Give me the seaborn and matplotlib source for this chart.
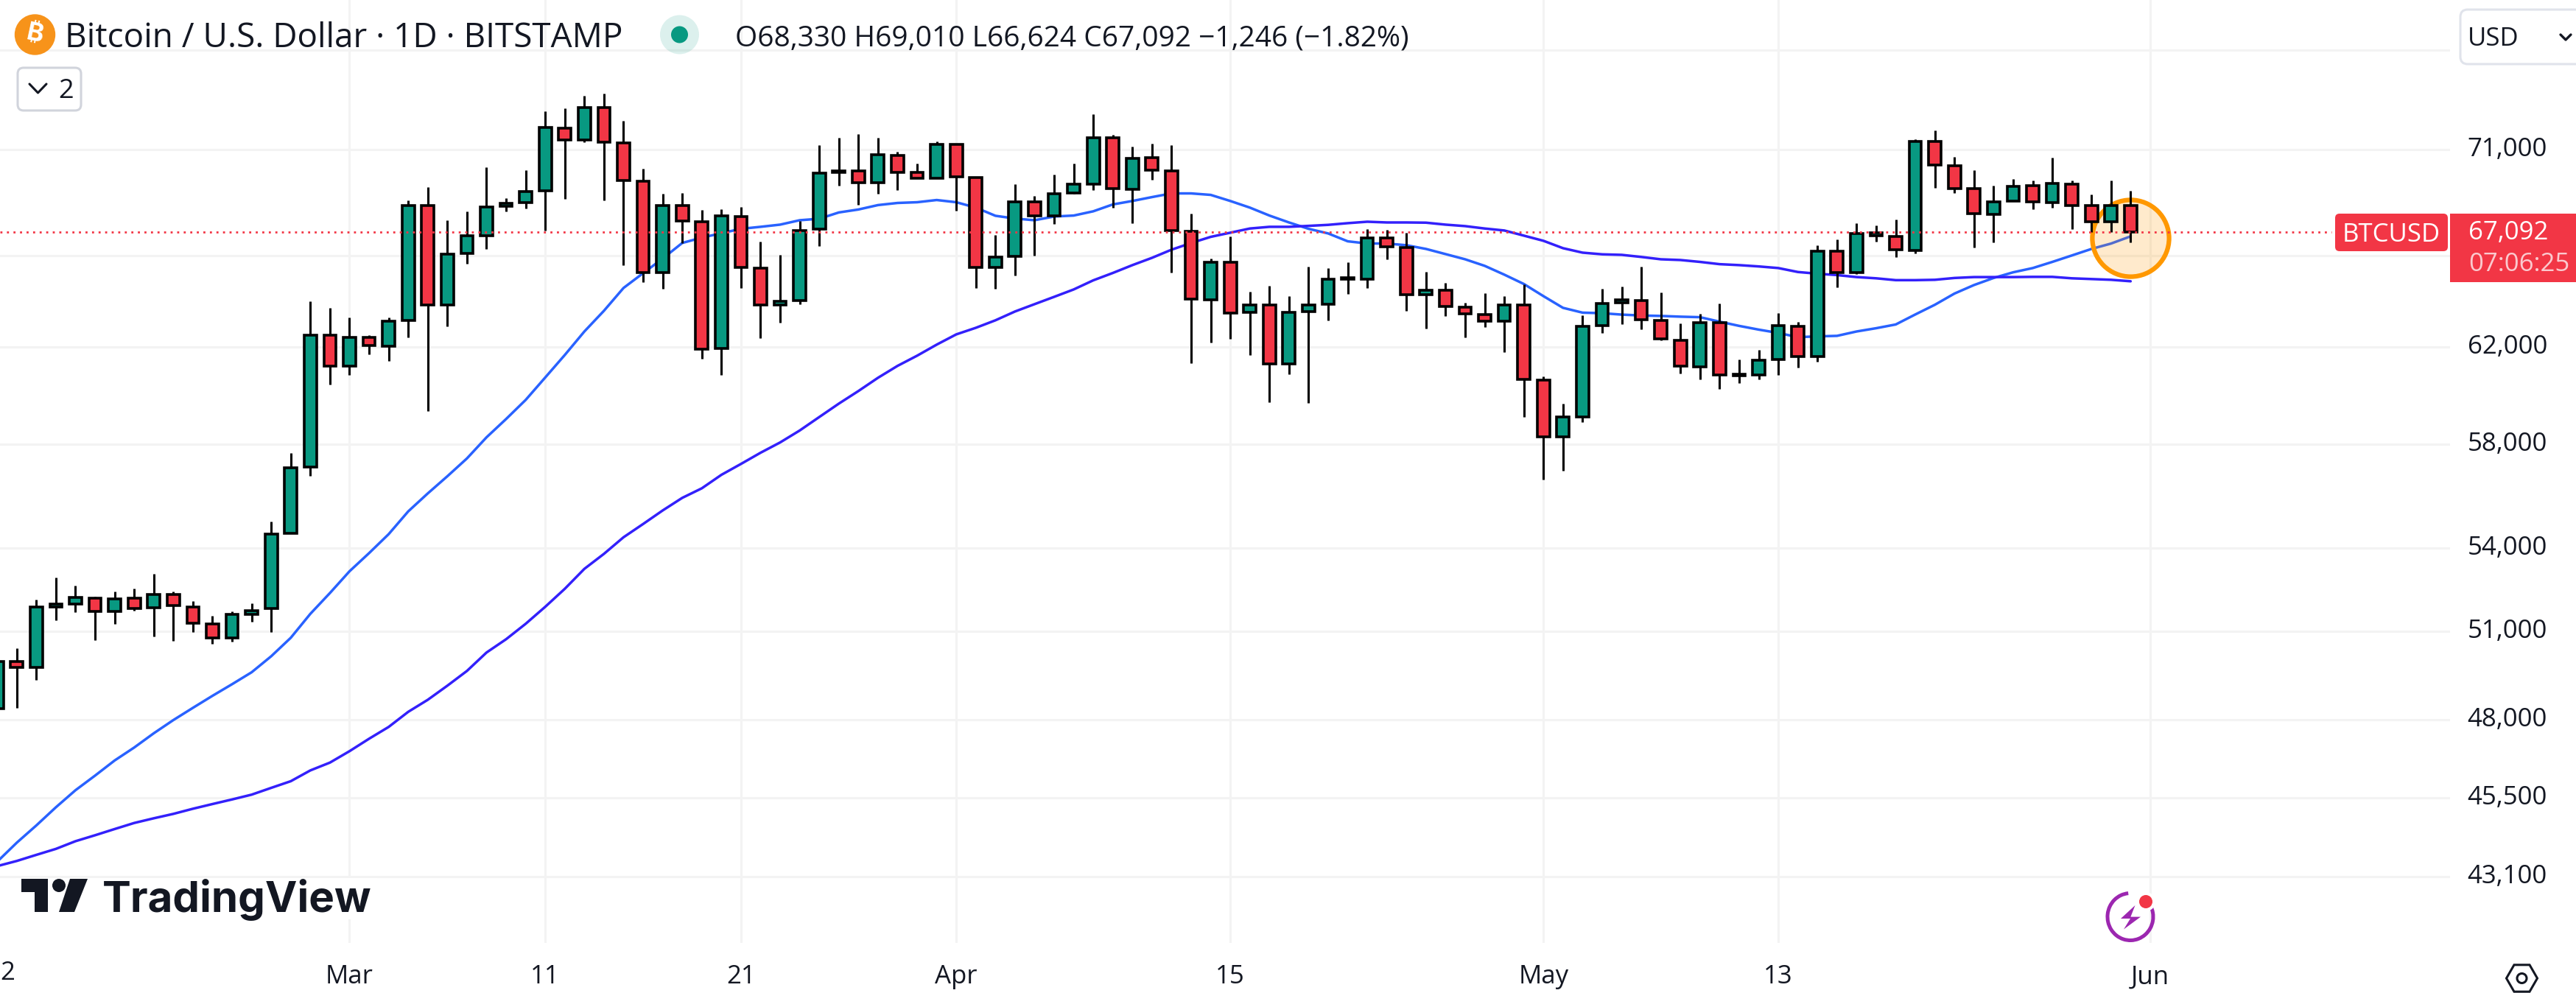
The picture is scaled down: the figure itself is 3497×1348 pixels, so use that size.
import numpy as np
import pandas as pd
import matplotlib.pyplot as plt
from matplotlib.patches import Circle, FancyBboxPatch, Polygon, Rectangle, RegularPolygon, Arc
from matplotlib.ticker import FixedLocator, FixedFormatter, NullLocator
import seaborn as sns

# daily BTCUSD candles, 12 Feb to 31 May
opens = [48375, 49967, 49766, 51875, 51980, 52190, 51718, 52180, 51834, 52310,
         51875, 51280, 50784, 51614, 51813, 54566, 57103, 62508, 61194, 62415,
         62039, 63147, 68330, 63819, 66117, 66926, 68295, 68468, 69022, 72055,
         71472, 73077, 71326, 69475, 65256, 68330, 67568, 61945, 67810, 65453,
         63819, 64011, 67230, 69890, 69983, 69404, 70728, 69912, 69617, 71265,
         69664, 65486, 65980, 68513, 67844, 68918, 69333, 71593, 69090, 70622,
         69971, 67139, 64043, 65726, 63497, 63828, 61289, 63529, 63851, 64962,
         64969, 66835, 66397, 64268, 64475, 63722, 63401, 63112, 63828, 60622,
         58306, 59109, 62922, 63915, 64021, 63149, 62299, 61164, 63040, 60848,
         60836, 61477, 62884, 61583, 66218, 65263, 66926, 66899, 66250, 71406,
         70221, 69125, 67927, 68537, 69264, 68468, 69333, 68340, 67568, 68330]
highs = [50300, 50411, 52124, 52934, 52625, 52242, 52425, 52515, 53069, 52425,
         52072, 51561, 51702, 51996, 55007, 57654, 63992, 63674, 63262, 62508,
         63262, 68572, 69195, 67637, 68053, 70160, 68676, 70007, 72892, 73051,
         73676, 73799, 72418, 70078, 68883, 68918, 68121, 68156, 68260, 66656,
         66049, 67602, 71217, 71582, 71763, 71582, 70906, 70327, 71400, 71265,
         69664, 66960, 69333, 68779, 69795, 70327, 72746, 71727, 71144, 71290,
         71217, 67948, 65881, 66893, 64400, 64663, 64204, 65519, 65453, 65717,
         67230, 67196, 67061, 65289, 64794, 63915, 64334, 64204, 64739, 60775,
         59634, 63371, 64531, 64630, 65503, 64380, 63002, 63423, 63883, 61464,
         61883, 63465, 63088, 66487, 66757, 67501, 67399, 67675, 71509, 71945,
         70650, 70007, 69264, 69575, 69506, 70611, 69506, 68848, 69506, 69010]
lows = [48060, 48400, 49326, 51404, 51692, 50708, 51260, 51745, 50823, 50664,
        50971, 50569, 50644, 51336, 50971, 54566, 56754, 60412, 60826, 61676,
        61423, 62415, 59337, 62890, 65651, 66318, 68062, 68200, 67163, 68641,
        71363, 68582, 65585, 64827, 64541, 66590, 61508, 60808, 64574, 62383,
        63040, 63851, 66453, 69274, 68375, 68883, 69067, 69617, 69617, 68097,
        64574, 64541, 65134, 66025, 67477, 68883, 69067, 68236, 67511, 69557,
        65266, 61330, 62196, 62352, 61673, 59706, 60866, 59676, 63147, 64301,
        64564, 65858, 63564, 62803, 63349, 62424, 62858, 61798, 59109, 56610,
        56957, 58892, 62602, 62967, 62745, 62299, 60894, 60643, 60228, 60497,
        60643, 60811, 61139, 61383, 64607, 65190, 66666, 65931, 66098, 69174,
        68897, 66370, 66625, 68537, 68166, 68216, 67210, 67095, 67095, 66624]
closes = [49967, 49766, 51875, 51962, 52200, 51718, 52148, 51823, 52310, 51909,
          51299, 50784, 51595, 51745, 54538, 57074, 62508, 61194, 62415, 62070,
          63112, 68330, 63819, 66083, 66926, 68260, 68444, 68987, 72091, 71472,
          73077, 71374, 69510, 65256, 68330, 67602, 61914, 67844, 65486, 63819,
          63979, 67173, 69866, 69983, 69404, 70753, 69901, 69617, 71265, 69688,
          65486, 65958, 68513, 67844, 68894, 69333, 71593, 69125, 70586, 70000,
          67163, 64075, 65726, 63465, 63828, 61289, 63509, 63828, 64969, 65026,
          66835, 66421, 64268, 64475, 63754, 63433, 63112, 63828, 60643, 58306,
          59109, 62899, 63892, 64043, 63188, 62352, 61198, 63040, 60836, 60796,
          61452, 62915, 61583, 66218, 65263, 67027, 67041, 66293, 71378, 70256,
          69132, 67955, 68513, 69229, 68503, 69371, 68330, 67568, 68313, 67092]

# the two moving averages
ma_fast = [43549, 44121, 44647, 45207, 45739, 46200, 46682, 47099, 47562, 47995,
           48400, 48801, 49191, 49596, 50144, 50784, 51626, 52368, 53155, 53822,
           54527, 55386, 56074, 56738, 57436, 58274, 59011, 59789, 60717, 61663,
           62665, 63562, 64565, 65223, 65881, 66590, 66835, 67037, 67240, 67332,
           67433, 67637, 67706, 67999, 68137, 68344, 68444, 68478, 68582, 68478,
           68226, 67844, 67716, 67637, 67810, 67855, 68053, 68375, 68537, 68720,
           68894, 68894, 68824, 68537, 68226, 67855, 67534, 67240, 67027, 66666,
           66565, 66565, 66487, 66318, 66083, 65848, 65552, 65158, 64741, 64204,
           63690, 63480, 63456, 63395, 63356, 63337, 63305, 63283, 63089, 62906,
           62745, 62602, 62421, 62455, 62477, 62665, 62806, 62967, 63401, 63825,
           64317, 64695, 65009, 65263, 65453, 65730, 66022, 66318, 66563, 66893]
ma_slow = [43417, 43571, 43754, 43934, 44166, 44347, 44536, 44722, 44866, 45002,
           45161, 45307, 45450, 45600, 45813, 46023, 46365, 46614, 46981, 47384,
           47769, 48267, 48668, 49141, 49641, 50272, 50733, 51273, 51875, 52520,
           53244, 53795, 54411, 54908, 55421, 55902, 56270, 56793, 57219, 57660,
           58069, 58547, 59091, 59637, 60155, 60704, 61203, 61632, 62102, 62540,
           62823, 63147, 63530, 63851, 64172, 64499, 64904, 65233, 65585, 65914,
           66284, 66588, 66869, 67061, 67254, 67332, 67332, 67376, 67423, 67501,
           67568, 67534, 67534, 67524, 67433, 67365, 67254, 67163, 66926, 66689,
           66352, 66149, 66073, 66049, 65954, 65848, 65815, 65730, 65628, 65585,
           65526, 65453, 65276, 65200, 65138, 65049, 64994, 64912, 64912, 64928,
           65009, 65049, 65049, 65049, 65059, 65059, 64994, 64961, 64928, 64862]

price_ticks = [76000, 71000, 66000, 62000, 58000, 54000, 51000, 48000, 45500, 43100]
price_labels = ["", "71,000", "", "62,000", "58,000", "54,000", "51,000", "48,000", "45,500", "43,100"]
date_ticks = [18, 28, 38, 49, 63, 79, 91, 110]
date_labels = ["Mar", "11", "21", "Apr", "15", "May", "13", "Jun"]
last_price = 67092

GREEN = "#089981"
RED = "#f23645"
INK = "#131722"
GRID = "#f3f3f3"

sns.set_theme(style="white")
plt.rcParams["font.family"] = ["Open Sans", "DejaVu Sans"]

W, H = 3498, 1348
fig = plt.figure(figsize=(W / 100, H / 100), dpi=100, facecolor="white")
ax = fig.add_axes([0, (H - 1280) / H, 3326 / W, 1280 / H])

df = pd.DataFrame({"day": np.arange(len(opens)), "open": opens, "high": highs, "low": lows,
                   "close": closes, "fast": ma_fast, "slow": ma_slow})

# moving averages go under the candles
sns.lineplot(data=df, x="day", y="fast", color="#2962ff", linewidth=2.5, ax=ax, zorder=2, estimator=None)
sns.lineplot(data=df, x="day", y="slow", color="#3320fb", linewidth=2.5, ax=ax, zorder=2, estimator=None)

# orange marker round the last candle
ax.plot(df["day"].iloc[-1], 66824, marker="o", ms=75, mfc=(1, 0.6, 0, 0.2), mec="#ff9800", mew=4.5, zorder=2.5)

# candles
colors = np.where(df["close"] >= df["open"], GREEN, RED)
ax.vlines(df["day"], df["low"], df["high"], color="black", linewidth=2.2, zorder=3)
ax.bar(df["day"], (df["close"] - df["open"]).abs(), bottom=df[["open", "close"]].min(axis=1), width=0.63,
       color=colors, edgecolor="black", linewidth=2.6, zorder=4)

ax.set_yscale("log")
ax.set_xlim(0.143, 125.32)
ax.set_ylim(41188, 78674)
ax.hlines(last_price, 0.143, 119.26, color=RED, linewidth=2, linestyle=(0, (1, 2.2)), zorder=5)

ax.yaxis.tick_right()
ax.yaxis.set_major_locator(FixedLocator(price_ticks))
ax.yaxis.set_major_formatter(FixedFormatter(price_labels))
ax.yaxis.set_minor_locator(NullLocator())
ax.set_xticks(date_ticks)
ax.set_xticklabels(date_labels)
ax.tick_params(axis="both", length=0, labelsize=25, labelcolor=INK)
ax.tick_params(axis="y", pad=17)
ax.tick_params(axis="x", pad=21)
for label in ax.get_yticklabels():
    label.set_verticalalignment("center")
ax.grid(True, color=GRID, linewidth=2.2)
ax.set_axisbelow(True)
ax.set_xlabel("")
ax.set_ylabel("")
for side in ax.spines.values():
    side.set_visible(False)

# overlay in picture pixels for the TradingView furniture
ui = fig.add_axes([0, 0, 1, 1], facecolor="none")
ui.set_xlim(0, W)
ui.set_ylim(H, 0)
ui.axis("off")

# only the last digit of the "12" date label is in frame
ui.text(0, 1321, "2", fontsize=25, color=INK, ha="left", va="center")

# header
ui.add_patch(Circle((47.5, 47), 27, color="#f7931a"))
ui.text(47.5, 47, "\u20bf", fontsize=25, color="white", ha="center", va="center", rotation=-12,
        fontweight="bold", family=["Inter", "Noto Sans", "Roboto", "Lato", "DejaVu Sans"])
ui.text(88, 52, "Bitcoin / U.S. Dollar \u00b7 1D \u00b7 BITSTAMP", fontsize=33, color=INK, ha="left", va="center")
ui.add_patch(Circle((922.5, 47), 26.5, color=GREEN, alpha=0.14, lw=0))
ui.add_patch(Circle((922.5, 47), 11.5, color=GREEN, lw=0))
ui.text(998, 52, "O68,330 H69,010 L66,624 C67,092 \u22121,246 (\u22121.82%)", fontsize=28, color=INK,
        ha="left", va="center")

# "v 2" button
ui.add_patch(FancyBboxPatch((24, 92), 86, 58, boxstyle="round,pad=0,rounding_size=8", fc="white", ec="#d1d4dc", lw=2.2))
ui.plot([40, 51.5, 63], [114, 126, 114], color=INK, lw=2.2)
ui.text(90, 124, "2", fontsize=26, color=INK, ha="center", va="center")

# USD button
ui.add_patch(FancyBboxPatch((3340, 13), 190, 74, boxstyle="round,pad=0,rounding_size=10", fc="white", ec="#e0e3eb", lw=2.2))
ui.text(3350, 53, "USD", fontsize=25, color=INK, ha="left", va="center")
ui.plot([3476, 3483, 3490], [47, 54, 47], color=INK, lw=2.4)

# price labels
ui.add_patch(FancyBboxPatch((3170, 290), 153, 51, boxstyle="round,pad=0,rounding_size=6", fc=RED, ec="none"))
ui.text(3246, 319, "BTCUSD", fontsize=25, color="white", ha="center", va="center")
ui.add_patch(Rectangle((3326, 290), 172, 93, fc=RED, ec="none"))
ui.text(3351, 316, "67,092", fontsize=25, color="white", ha="left", va="center")
ui.text(3351, 359, "07:06:25", fontsize=25, color="#fbc9ce", ha="left", va="center")

# TradingView watermark
ui.add_patch(Rectangle((22, 1192), 490, 56, fc="white", ec="none"))
ui.add_patch(Polygon([(29, 1193), (65, 1193), (65, 1238), (47, 1238), (47, 1211), (29, 1211)], fc=INK, ec="none"))
ui.add_patch(Circle((80, 1202), 9, fc=INK, ec="none"))
ui.add_patch(Polygon([(95, 1193), (119, 1193), (101, 1238), (80, 1238)], fc=INK, ec="none"))
ui.text(139, 1238, "TradingView", fontsize=42, color=INK, ha="left", va="baseline", fontweight="bold", family="Inter")

# lightning badge
ui.add_patch(Arc((2892, 1244.5), 62, 64, theta1=-50, theta2=265, color="#9c27b0", lw=3.6))
ui.add_patch(Polygon([(2898.5, 1229), (2879, 1247), (2892, 1247), (2883, 1261.6), (2906, 1244.6), (2892.4, 1244.6)],
                     fc="#9c27b0", ec="none"))
ui.add_patch(Circle((2913, 1224), 13, fc="white", ec="none"))
ui.add_patch(Circle((2913, 1224), 9, fc=RED, ec="none"))

# settings hexagon
ui.add_patch(RegularPolygon((3423.5, 1328), 6, radius=21, orientation=np.pi / 6, fc="none", ec=INK, lw=2.2))
ui.add_patch(Circle((3423.5, 1328), 6.5, fc="none", ec=INK, lw=2.2))

plt.savefig("out.png", dpi=100)
